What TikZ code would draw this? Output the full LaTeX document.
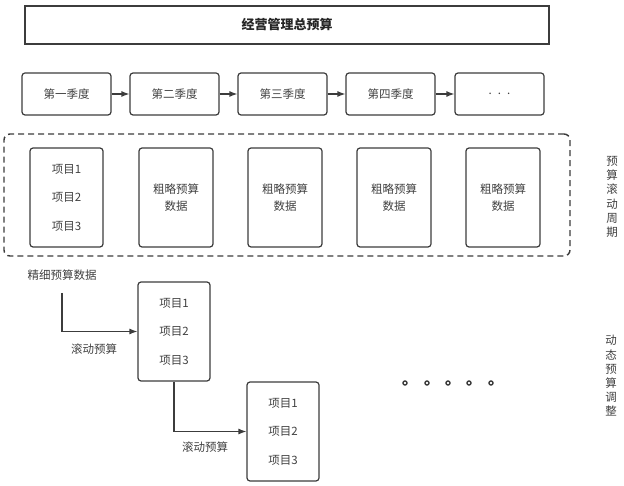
\documentclass[tikz,border=0pt]{standalone}
\usepackage{fontspec}
\setmainfont{Noto Sans CJK SC}
\usetikzlibrary{arrows.meta}
\definecolor{edge}{HTML}{3C3C3C}
\definecolor{ink}{HTML}{404040}

\begin{document}
\begin{tikzpicture}[x=1pt, y=-1pt,
		box/.style={draw=edge, line width=1.2pt, rounded corners=3pt, inner sep=0pt, text=ink, align=center, font=\fontsize{11.5}{14}\selectfont},
		quarter/.style={box, minimum width=89pt, minimum height=42pt},
		itembox/.style={box, minimum width=73pt, minimum height=99pt, font=\fontsize{11.5}{28.5}\selectfont},
		roughbox/.style={box, minimum width=74pt, minimum height=99pt, font=\fontsize{11.5}{17}\selectfont},
		flow/.style={draw=edge, line width=1.2pt, -{Latex[length=8pt, width=6pt]}},
		note/.style={text=ink, inner sep=0pt, font=\fontsize{11.5}{14}\selectfont},
		sidenote/.style={note, align=center, font=\fontsize{11.5}{14.2}\selectfont},
		moredot/.style={circle, draw=edge, line width=1.4pt, inner sep=0pt, minimum size=4pt}]
		\useasboundingbox (0,0) rectangle (624,486);
		% total budget
		\node[draw=edge, line width=1.2pt, minimum width=524pt, minimum height=38pt, text=black!85, font=\fontsize{13}{15}\selectfont\bfseries] (total) at (287,25) {经营管理总预算};
		% quarters
		\node[quarter] (q1) at (66.5,94) {第一季度};
		\node[quarter] (q2) at (174.5,94) {第二季度};
		\node[quarter] (q3) at (282.5,94) {第三季度};
		\node[quarter] (q4) at (390.5,94) {第四季度};
		\node[quarter] (q5) at (499.5,94) {.\hspace{6pt}.\hspace{6pt}.};
		\draw[flow] (q1) -- (q2);
		\draw[flow] (q2) -- (q3);
		\draw[flow] (q3) -- (q4);
		\draw[flow] (q4) -- (q5);
		% rolling cycle
		\node[draw=edge, line width=1.4pt, dash pattern=on 6pt off 4pt, rounded corners=6pt, minimum width=566pt, minimum height=122pt] (cycle) at (287,195) {};
		\node[itembox] (p1) at (66.5,197.5) {项目1\\项目2\\项目3};
		\node[roughbox] (p2) at (176,197.5) {粗略预算\\数据};
		\node[roughbox] (p3) at (285,197.5) {粗略预算\\数据};
		\node[roughbox] (p4) at (394,197.5) {粗略预算\\数据};
		\node[roughbox] (p5) at (503,197.5) {粗略预算\\数据};
		\node[sidenote] (rollcycle) at (612,197) {预\\算\\滚\\动\\周\\期};
		% dynamic adjustment
		\node[note] (fine) at (62,275) {精细预算数据};
		\coordinate (fine-start) at (62,293);
		\node[itembox, minimum width=72pt] (s1) at (174,331.5) {项目1\\项目2\\项目3};
		\node[itembox, minimum width=72pt] (s2) at (283,431.5) {项目1\\项目2\\项目3};
		\draw[flow] (fine-start) |- (s1.west);
		\node[note] (roll1) at (94,349) {滚动预算};
		\draw[flow] (s1.south) |- (s2.west);
		\node[note] (roll2) at (205,447) {滚动预算};
		\node[moredot] (d1) at (405,383) {};
		\node[moredot] (d2) at (427,383) {};
		\node[moredot] (d3) at (448,383) {};
		\node[moredot] (d4) at (469,383) {};
		\node[moredot] (d5) at (491,383) {};
		\node[sidenote] (dynadjust) at (611,376) {动\\态\\预\\算\\调\\整};
	\end{tikzpicture}
\end{document}
